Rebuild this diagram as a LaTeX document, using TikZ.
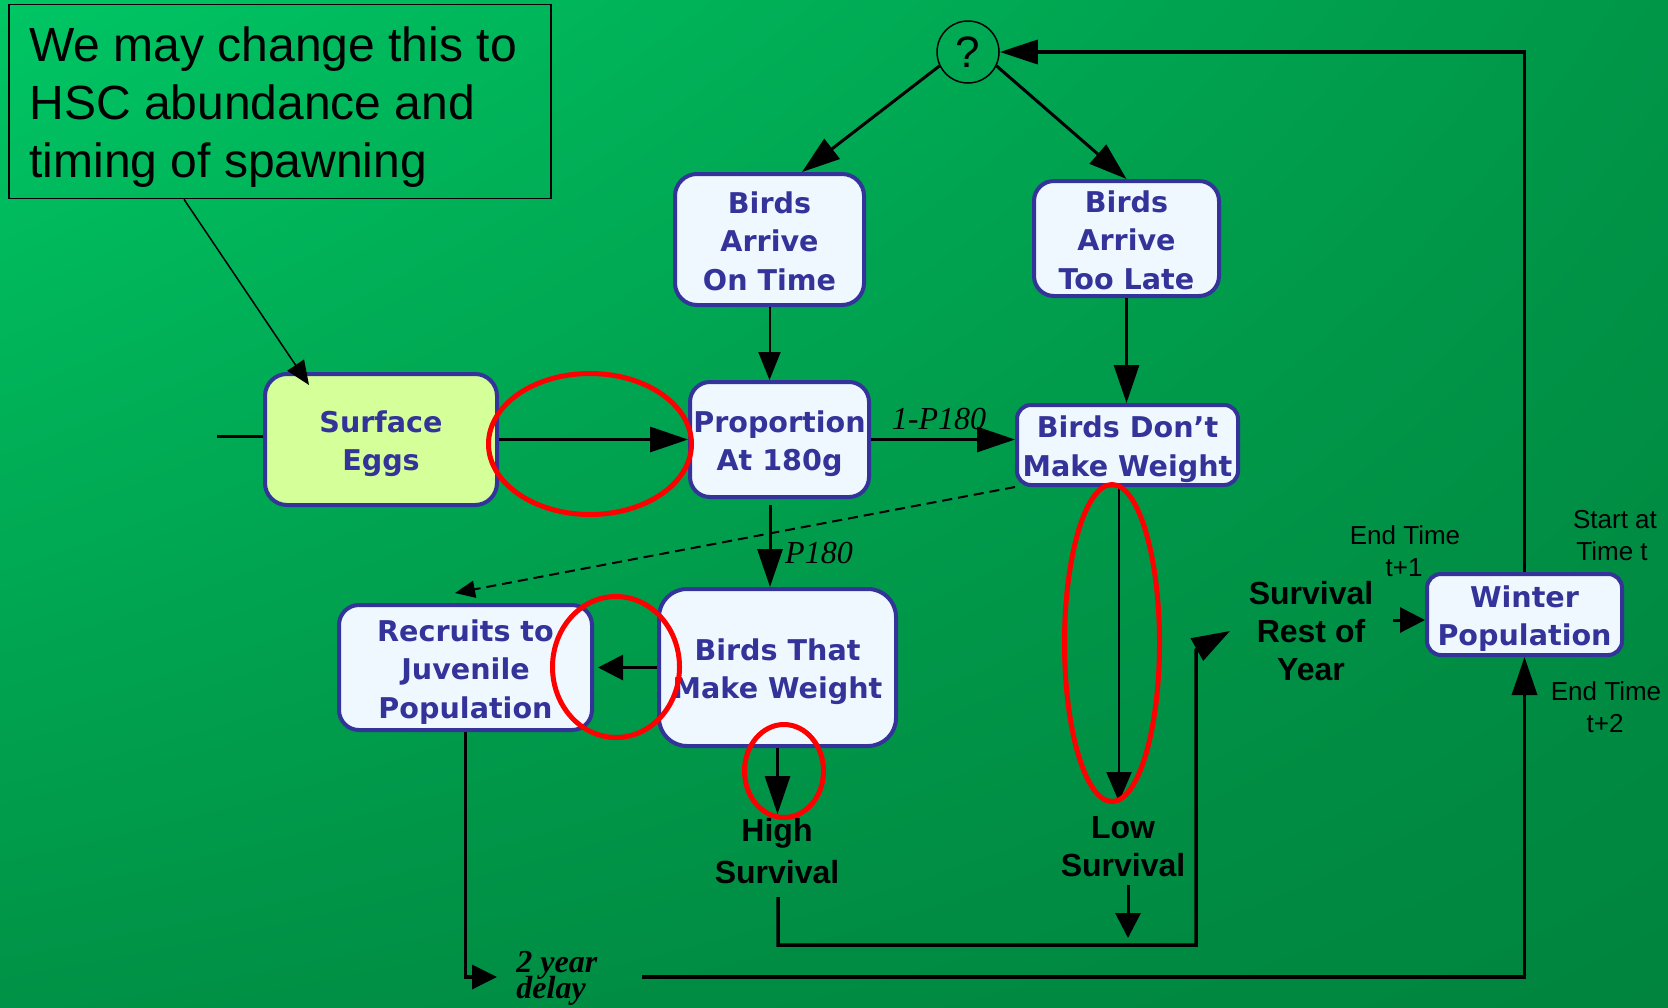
\documentclass[tikz,border=0pt]{standalone}
\usepackage{fontspec}
\setmainfont{Liberation Sans}
\newfontfamily\dvfont{DejaVu Sans}
\newfontfamily\tmsfont{Liberation Serif}
\usetikzlibrary{arrows.meta,calc,shadings}
\definecolor{boxblue}{RGB}{51,51,153}
\definecolor{boxfill}{RGB}{240,248,255}
\definecolor{eggfill}{RGB}{212,255,153}
\definecolor{bgul}{RGB}{0,198,100}
\definecolor{bgur}{RGB}{0,150,72}
\definecolor{bgll}{RGB}{0,146,70}
\definecolor{bglr}{RGB}{0,132,62}
\definecolor{redmark}{RGB}{255,0,0}
\newcommand\bxtext[1]{\begin{tabular}{@{}c@{}}\rule{0pt}{17.8pt}#1\end{tabular}}
\begin{document}
\begin{tikzpicture}[x=0.5pt,y=-0.5pt,
  box/.style={draw=boxblue, line width=2pt, fill=boxfill, inner sep=0pt,
    text=boxblue, font=\dvfont\bfseries\fontsize{14.3pt}{19.25pt}\selectfont},
  notetxt/.style={inner sep=0pt, anchor=base west, font=\fontsize{24pt}{29pt}\selectfont},
  lbl/.style={inner sep=0pt, anchor=base, font=\fontsize{13pt}{15pt}\selectfont},
  blbl/.style={inner sep=0pt, anchor=base, font=\bfseries\fontsize{16pt}{19pt}\selectfont},
  ilbl/.style={inner sep=0pt, anchor=base, font=\tmsfont\itshape\fontsize{16pt}{19pt}\selectfont},
  dlbl/.style={inner sep=0pt, anchor=base west, font=\tmsfont\bfseries\itshape\fontsize{16pt}{19pt}\selectfont},
  biglink/.style={line width=1.5pt, -{Triangle[length=19pt,width=12.5pt]}},
  smalllink/.style={line width=1.5pt, -{Triangle[length=12.5pt,width=12.5pt]}},
  thinlink/.style={line width=1pt, -{Triangle[length=14pt,width=11pt]}},
  loopline/.style={line width=1.75pt},
  redring/.style={draw=redmark, line width=2.5pt},
]
% background
\shade[upper left=bgul, upper right=bgur, lower left=bgll, lower right=bglr] (0,0) rectangle (1668,1007);
\useasboundingbox (0,0) rectangle (1668,1007);

% note
\node[draw=black, line width=0.85pt, minimum width=271pt, minimum height=97pt, inner sep=0pt] (note) at (280,101.5) {};
\node[notetxt] (note1) at (29,61) {We may change this to};
\node[notetxt] (note2) at (29,119) {HSC abundance and};
\node[notetxt] (note3) at (29,177) {timing of spawning};

% question circle
\node[circle, draw=black, line width=0.75pt, minimum size=31pt, inner sep=0pt,
  font=\fontsize{22pt}{24pt}\selectfont] (q) at (968,52) {?};

% boxes
\node[box, minimum width=94.5pt, minimum height=65.5pt, rounded corners=11pt] (ontime) at (769.5,239.5) {\bxtext{Birds\\Arrive\\On Time}};
\node[box, minimum width=92.5pt, minimum height=57.5pt, inner ysep=-2.3pt, rounded corners=10pt] (toolate) at (1126.5,238.5) {\bxtext{Birds\\Arrive\\Too Late}};
\node[box, fill=eggfill, minimum width=116pt, minimum height=65.5pt, rounded corners=11pt] (eggs) at (381,439.5) {\bxtext{Surface\\Eggs}};
\node[box, minimum width=89.5pt, minimum height=57.5pt, rounded corners=10pt] (prop) at (779.5,439.5) {\bxtext{Proportion\\At 180g}};
\node[box, minimum width=110.5pt, minimum height=40pt, inner ysep=-1.45pt, rounded corners=7pt] (dont) at (1127.5,445) {\bxtext{Birds Don’t\\Make Weight}};
\node[box, minimum width=126.5pt, minimum height=62.5pt, rounded corners=10pt] (recruits) at (465.5,667.5) {\bxtext{Recruits to\\Juvenile\\Population}};
\node[box, minimum width=118.5pt, minimum height=78.5pt, rounded corners=14pt] (birdsthat) at (777.5,667.5) {\bxtext{Birds That\\Make Weight}};
\node[box, minimum width=97.5pt, minimum height=40.5pt, inner ysep=-1.2pt, rounded corners=7pt] (winter) at (1524.5,614.5) {\bxtext{Winter\\Population}};

% free labels
\node[ilbl] (p1) at (939,429) {1-P180};
\node[ilbl] (p2) at (819,563) {P180};
\node[dlbl] (dy1) at (516,972) {2 year};
\node[dlbl] (dy2) at (516,998) {delay};
\node[blbl] (hi1) at (777,841) {High};
\node[blbl] (hi2) at (777,883) {Survival};
\node[blbl] (lo1) at (1123,838) {Low};
\node[blbl] (lo2) at (1123,876) {Survival};
\node[blbl] (sr1) at (1311,604) {Survival};
\node[blbl] (sr2) at (1311,642) {Rest of};
\node[blbl] (sr3) at (1311,680) {Year};
\node[lbl] (et1) at (1405,544) {End Time};
\node[lbl] (et2) at (1404,576) {t+1};
\node[lbl] (st1) at (1615,528) {Start at};
\node[lbl] (st2) at (1612,560) {Time t};
\node[lbl] (e21) at (1606,700) {End Time};
\node[lbl] (e22) at (1605,732) {t+2};

% coordinates
\coordinate (stub) at (217,436);
\coordinate (pb) at ($(prop.south)+(-9.5,6)$);
\coordinate (hstop) at ($(birdsthat.south)+(0,66)$);
\coordinate (ds) at ($(dont.south)+(-8.5,0)$);
\coordinate (ls1) at (1128,885);
\coordinate (ls2) at (1128,938);
\coordinate (hs1) at (778,897);
\coordinate (hs2) at (1196,945);
\coordinate (hs3) at (1196,650);
\coordinate (hs4) at (1230,631);
\coordinate (et) at (1393,620);
\coordinate (dl) at (497,977);
\coordinate (lb) at (642,977);

% connectors
\draw[line width=0.75pt, -{Triangle[length=12pt,width=10pt]}] ($(note.south)+(-96,0)$) -- ($(eggs.north west)+(46,13)$);
\draw[biglink] (q.206) -- ($(ontime.north)+(32.5,0)$);
\draw[biglink] (q.-26) -- (toolate.north);
\draw[loopline, -{Triangle[length=19pt,width=12pt]}] (winter.north) |- (q.east);
\draw[thinlink] (ontime.south) -- (ontime.south |- prop.north);
\draw[biglink] (toolate.south) -- (toolate.south |- dont.north);
\draw[line width=1.5pt] (stub) -- (stub -| eggs.west);
\draw[biglink] (eggs.east) -- (prop.west);
\draw[biglink] (prop.east) -- (prop.east -| dont.west);
\draw[biglink] (pb) -- (pb |- birdsthat.north);
\draw[line width=1pt, dash pattern=on 5pt off 3pt, -{Triangle[length=10pt,width=8.5pt]}] (dont.south west) -- ($(recruits.north west)+(118,-10)$);
\draw[smalllink, shorten >=2pt] (birdsthat.west) -- (recruits.east);
\draw[biglink] (birdsthat.south) -- (hstop);
\draw[line width=1pt, -{Triangle[length=15pt,width=12.5pt]}] (ds) -- ++(0,315);
\draw[smalllink] (ls1) -- (ls2);
\draw[loopline, -{Triangle[length=19pt,width=12.5pt]}] (hs1) |- (hs2) -- (hs3) -- (hs4);
\draw[smalllink] (et) -- (et -| winter.west);
\draw[loopline, -{Triangle[length=12.5pt,width=12pt]}] (recruits.south) |- (dl);
\draw[loopline, -{Triangle[length=19pt,width=12.5pt]}] (lb) -| (winter.south);

% red annotation rings
\draw[redring] (590,444) ellipse [x radius=50.75pt, y radius=35.25pt];
\draw[redring] (616,667) ellipse [x radius=31.75pt, y radius=35.25pt];
\draw[redring] (784,771) ellipse [x radius=19.75pt, y radius=23.25pt];
\draw[redring] (1112,643) ellipse [x radius=23.75pt, y radius=79.25pt];
\end{tikzpicture}
\end{document}
